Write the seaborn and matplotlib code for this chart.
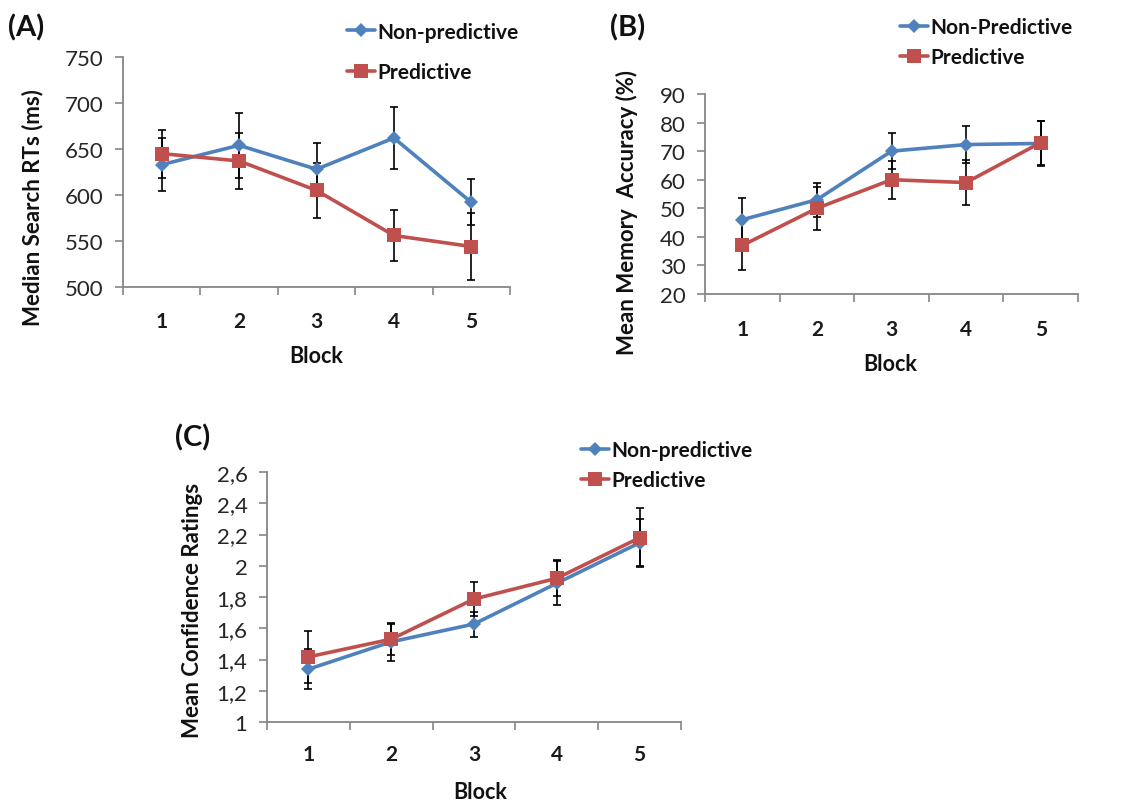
import numpy as np
import pandas as pd
import matplotlib
matplotlib.use("Agg")
import matplotlib.pyplot as plt
from matplotlib.ticker import FixedLocator, FuncFormatter, NullFormatter
import seaborn as sns

# ---------------- data ----------------
blocks = [1, 2, 3, 4, 5]

# Panel A: median search RTs (ms)
a_nonpred = [633, 654, 628, 662, 592]
a_nonpred_err = [29, 35, 29, 34, 25]
a_pred = [645, 637, 605, 556, 544]
a_pred_err = [26, 30, 30, 28, 36]

# Panel B: mean memory accuracy (%)
b_nonpred = [46.0, 53.0, 70.0, 72.3, 72.7]
b_nonpred_err = [7.7, 6.0, 6.3, 6.5, 8.0]
b_pred = [37.0, 50.0, 60.0, 59.0, 73.0]
b_pred_err = [8.6, 7.5, 6.7, 8.0, 7.7]

# Panel C: mean confidence ratings
c_nonpred = [1.338, 1.513, 1.627, 1.888, 2.147]
c_nonpred_err = [0.128, 0.12, 0.08, 0.14, 0.15]
c_pred = [1.417, 1.530, 1.787, 1.920, 2.179]
c_pred_err = [0.167, 0.10, 0.107, 0.115, 0.19]

a_labels = ["Non-predictive", "Predictive"]
b_labels = ["Non-Predictive", "Predictive"]
c_labels = ["Non-predictive", "Predictive"]

a_yticks = [500, 550, 600, 650, 700, 750]
b_yticks = [20, 30, 40, 50, 60, 70, 80, 90]
c_yticks = [1.0, 1.2, 1.4, 1.6, 1.8, 2.0, 2.2, 2.4, 2.6]

# ---------------- style ----------------
sns.set_theme(style="white")
plt.rcParams["font.family"] = ["Lato", "DejaVu Sans"]

BLUE = "#4F81BD"
RED = "#C0504D"
SPINE = "#868686"

W, H = 1139, 804
fig = plt.figure(figsize=(W / 100, H / 100), dpi=100)


def px_axes(left, top, right, bottom):
    return fig.add_axes([left / W, 1 - bottom / H, (right - left) / W, (bottom - top) / H])


def draw_panel(ax, nonpred, nonpred_err, pred, pred_err, labels, ylim, yticks,
               ylabel, ylabel_xy, xlabel_xy, leg_anchor, leg_spacing, fmt=None,
               xpad=15):
    df = pd.DataFrame({
        "Block": blocks + blocks,
        "value": list(nonpred) + list(pred),
        "cond": [labels[0]] * len(blocks) + [labels[1]] * len(blocks),
    })
    # error bars behind lines
    ax.errorbar(blocks, nonpred, yerr=nonpred_err, fmt="none", ecolor="black",
                elinewidth=1.2, capsize=3.2, capthick=1.2, zorder=1)
    ax.errorbar(blocks, pred, yerr=pred_err, fmt="none", ecolor="black",
                elinewidth=1.2, capsize=3.2, capthick=1.2, zorder=1)
    sns.lineplot(data=df, x="Block", y="value", hue="cond", style="cond",
                 hue_order=labels, style_order=labels,
                 palette={labels[0]: BLUE, labels[1]: RED},
                 markers={labels[0]: "D", labels[1]: "s"},
                 dashes=False, linewidth=2.6, ax=ax, zorder=3,
                 markeredgewidth=0, errorbar=None)
    for line in ax.lines:
        m = line.get_marker()
        if m == "D":
            line.set_markersize(7.5)
        elif m == "s":
            line.set_markersize(9.5)

    ax.set_xlim(0.5, 5.5)
    ax.set_ylim(*ylim)
    ax.yaxis.set_major_locator(FixedLocator(yticks))
    if fmt is not None:
        ax.yaxis.set_major_formatter(FuncFormatter(fmt))
    ax.xaxis.set_major_locator(FixedLocator(blocks))
    ax.xaxis.set_minor_locator(FixedLocator([0.5, 1.5, 2.5, 3.5, 4.5, 5.5]))
    ax.xaxis.set_minor_formatter(NullFormatter())
    ax.tick_params(axis="x", which="major", length=0, pad=xpad, labelsize=15,
                   labelcolor="#1a1a1a")
    for t in ax.get_xticklabels():
        t.set_fontweight("bold")
    ax.tick_params(axis="x", which="minor", length=6, width=1.2, color=SPINE,
                   direction="out", bottom=True)
    ax.tick_params(axis="y", which="major", length=6, width=1.2, color=SPINE,
                   direction="out", left=True, pad=8, labelsize=16,
                   labelcolor="#262626")
    for side in ["top", "right"]:
        ax.spines[side].set_visible(False)
    for side in ["left", "bottom"]:
        ax.spines[side].set_color(SPINE)
        ax.spines[side].set_linewidth(1.3)

    ax.set_ylabel(ylabel, fontsize=16, fontweight="bold", color="#111111")
    ax.yaxis.label.set_va("center")
    ax.yaxis.set_label_coords(*ylabel_xy)
    ax.set_xlabel("Block", fontsize=15.5, fontweight="bold", color="#111111")
    ax.xaxis.label.set_va("center")
    ax.xaxis.set_label_coords(*xlabel_xy)

    handles, labs = ax.get_legend_handles_labels()
    leg = ax.legend(handles, labs, loc="center left",
                    bbox_to_anchor=(leg_anchor[0] / W, 1 - leg_anchor[1] / H),
                    bbox_transform=fig.transFigure, frameon=False,
                    handlelength=1.35, handletextpad=0.12, borderpad=0,
                    borderaxespad=0, labelspacing=leg_spacing,
                    prop={"size": 15, "weight": "bold"})
    for t in leg.get_texts():
        t.set_color("#111111")


# Panel A
axA = px_axes(123, 58, 510, 288)
draw_panel(axA, a_nonpred, a_nonpred_err, a_pred, a_pred_err, a_labels,
           (500, 750), a_yticks, "Median Search RTs (ms)",
           (-0.235, 0.35), (0.5, -0.30), (347, 53), 1.0, xpad=17)

# Panel B
axB = px_axes(705, 95, 1078, 295)
draw_panel(axB, b_nonpred, b_nonpred_err, b_pred, b_pred_err, b_labels,
           (20, 90), b_yticks, "Mean Memory  Accuracy (%)",
           (-0.21, 0.415), (0.496, -0.35), (900, 43), 0.5, xpad=18)

# Panel C
axC = px_axes(267, 473, 681, 723)
draw_panel(axC, c_nonpred, c_nonpred_err, c_pred, c_pred_err, c_labels,
           (1.0, 2.6), c_yticks, "Mean Confidence Ratings",
           (-0.181, 0.452), (0.514, -0.28), (581, 466), 0.48,
           fmt=lambda v, p: (f"{v:.1f}".rstrip("0").rstrip(".")).replace(".", ","),
           xpad=16)

# Panel letters
for txt, x, y in [("(A)", 8, 28), ("(B)", 610, 28), ("(C)", 175, 438)]:
    fig.text(x / W, 1 - y / H, txt, fontsize=21, fontweight="bold",
             ha="left", va="center", color="#111111")

fig.savefig("out.png", dpi=100)
